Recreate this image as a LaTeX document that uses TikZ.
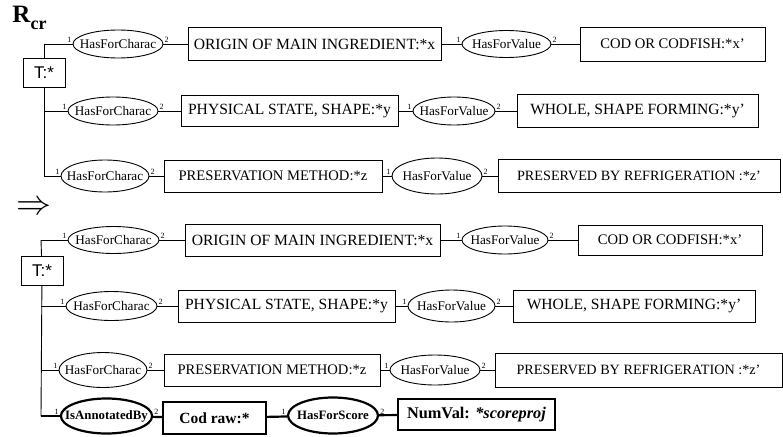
\documentclass[tikz,border=0pt]{standalone}
\usepackage{fontspec}
\setmainfont{Liberation Serif}
\newfontfamily\arialfont{Liberation Sans}
\usetikzlibrary{shapes.geometric}

\begin{document}
\begin{tikzpicture}[x=1pt,y=-1pt,line width=0.9pt]
        \tikzstyle{every node}=[inner sep=0pt];
        \tikzstyle{arity}=[font=\fontsize{8}{9}\selectfont,inner sep=0.8pt];
        \tikzstyle{concept}=[draw,rectangle,font=\fontsize{15.6}{18}\selectfont];
        \tikzstyle{smallconcept}=[concept,font=\fontsize{14.6}{17}\selectfont];
        \tikzstyle{relation}=[draw,ellipse,inner xsep=-7pt,font=\fontsize{13.2}{15}\selectfont,
            label={[arity,anchor=south east]west:1},label={[arity,anchor=south west]east:2}];
        \tikzstyle{typebox}=[concept,font=\arialfont\fontsize{17}{19}\selectfont,minimum width=42,minimum height=29];
        \tikzstyle{bconcept}=[concept,line width=2.2pt];
        \tikzstyle{brelation}=[relation,line width=2.2pt,inner xsep=-9pt,font=\bfseries\fontsize{12.8}{14}\selectfont];
        \useasboundingbox (0,0) rectangle (783,436);
        %\node[style] (name) at (x,y) {text};
        %\draw (name) -- (name);
        % rule R_cr
        \node[anchor=base west] (rcr) at (12,23) {\fontsize{25}{28}\selectfont\textbf{R}\raisebox{-7pt}{\fontsize{18}{20}\selectfont\textbf{cr}}};
        \node[typebox] (t1) at (44,73) {T:*};
        \coordinate (c1) at (44,44);
        \coordinate (c2) at (44,111);
        \coordinate (c3) at (44,176);
        \node[relation,minimum width=90,minimum height=28] (hc1) at (118,44) {HasForCharac};
        \node[concept,minimum width=253,minimum height=33] (o1) at (314.5,44) {ORIGIN OF MAIN INGREDIENT:*x};
        \node[relation,minimum width=89,minimum height=27] (hv1) at (506.5,44) {HasForValue};
        \node[smallconcept,minimum width=185,minimum height=34] (v1) at (672.5,44) {COD OR CODFISH:*x'};
        \node[relation,minimum width=90,minimum height=28] (hc2) at (113,111) {HasForCharac};
        \node[concept,minimum width=217,minimum height=31] (o2) at (289.5,111) {PHYSICAL STATE, SHAPE:*y};
        \node[relation,minimum width=82,minimum height=28] (hv2) at (454,111) {HasForValue};
        \node[concept,minimum width=241,minimum height=33] (v2) at (637.5,111) {WHOLE, SHAPE FORMING:*y'};
        \node[relation,minimum width=84,minimum height=32] (hc3) at (105,176) {HasForCharac};
        \node[smallconcept,minimum width=218,minimum height=32] (o3) at (273,176) {PRESERVATION METHOD:*z};
        \node[relation,minimum width=90,minimum height=36] (hv3) at (437,176) {HasForValue};
        \node[smallconcept,font=\fontsize{14.2}{17}\selectfont,minimum width=282,minimum height=33] (v3) at (639,176) {PRESERVED BY REFRIGERATION :*z'};
        \draw (c1)--(t1);
        \draw (t1)--(c3);
        \draw (c1)--(hc1);
        \draw (hc1)--(o1);
        \draw (o1)--(hv1);
        \draw (hv1)--(v1);
        \draw (c2)--(hc2);
        \draw (hc2)--(o2);
        \draw (o2)--(hv2);
        \draw (hv2)--(v2);
        \draw (c3)--(hc3);
        \draw (hc3)--(o3);
        \draw (o3)--(hv3);
        \draw (hv3)--(v3);
        \node (impl) at (34,208) {\scalebox{3.5}{$\Rightarrow$}};
        % annotated graph
        \node[typebox] (t2) at (42,271) {T:*};
        \coordinate (c4) at (41,240);
        \coordinate (c5) at (41,306);
        \coordinate (c6) at (41,370);
        \coordinate (c7) at (41,416);
        \node[relation,minimum width=91,minimum height=27] (hc4) at (113.5,240) {HasForCharac};
        \node[concept,minimum width=255,minimum height=32] (o4) at (312.5,240) {ORIGIN OF MAIN INGREDIENT:*x};
        \node[relation,minimum width=86,minimum height=28] (hv4) at (505,240) {HasForValue};
        \node[smallconcept,minimum width=184,minimum height=30] (v4) at (670,240) {COD OR CODFISH:*x'};
        \node[relation,minimum width=91,minimum height=29] (hc5) at (111.5,306) {HasForCharac};
        \node[concept,minimum width=217,minimum height=32] (o5) at (286.5,306) {PHYSICAL STATE, SHAPE:*y};
        \node[relation,minimum width=87,minimum height=32] (hv5) at (451.5,306) {HasForValue};
        \node[concept,minimum width=242,minimum height=32] (v5) at (634,306) {WHOLE, SHAPE FORMING:*y'};
        \node[relation,minimum width=88,minimum height=35] (hc6) at (103,370) {HasForCharac};
        \node[smallconcept,minimum width=216,minimum height=32] (o6) at (272,370) {PRESERVATION METHOD:*z};
        \node[relation,minimum width=90,minimum height=30] (hv6) at (435,370) {HasForValue};
        \node[smallconcept,font=\fontsize{14.2}{17}\selectfont,minimum width=287,minimum height=34] (v6) at (638.5,370) {PRESERVED BY REFRIGERATION :*z'};
        \node[brelation,minimum width=89,minimum height=35] (ia) at (106.5,416) {IsAnnotatedBy};
        \node[bconcept,minimum width=103,minimum height=32,font=\bfseries\fontsize{15.5}{18}\selectfont] (cod) at (214.5,418) {Cod raw:*};
        \node[brelation,minimum width=90,minimum height=36] (hs) at (333,415.5) {HasForScore};
        \node[bconcept,minimum width=157,minimum height=31,font=\bfseries\fontsize{16.3}{18}\selectfont] (nv) at (476.5,414.5) {NumVal: \textit{*scoreproj}};
        \draw (c4)--(t2);
        \draw (t2)--(c7);
        \draw (c4)--(hc4);
        \draw (hc4)--(o4);
        \draw (o4)--(hv4);
        \draw (hv4)--(v4);
        \draw (c5)--(hc5);
        \draw (hc5)--(o5);
        \draw (o5)--(hv5);
        \draw (hv5)--(v5);
        \draw (c6)--(hc6);
        \draw (hc6)--(o6);
        \draw (o6)--(hv6);
        \draw (hv6)--(v6);
        \draw[line width=2.2pt] (c7)--(ia);
        \draw[line width=2.2pt] (ia)--(cod);
        \draw[line width=2.2pt] (cod)--(hs);
        \draw[line width=2.2pt] (hs)--(nv);
    \end{tikzpicture}
\end{document}
